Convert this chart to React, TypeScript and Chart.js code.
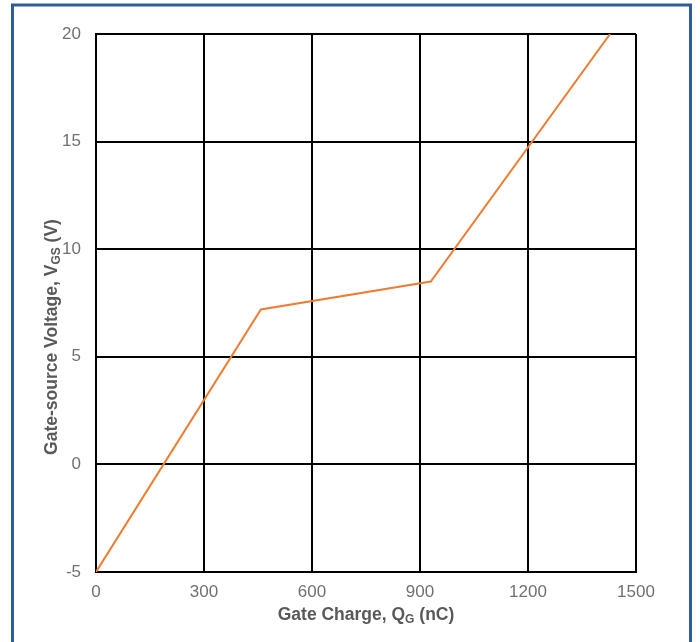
import React, { useEffect, useRef } from "react";
import { Chart, registerables } from "chart.js";
Chart.register(...registerables);

const charge = [0, 458, 930, 1428];
const voltage = [-5, 7.2, 8.5, 20];
const xTicks = [0, 300, 600, 900, 1200, 1500];
const yTicks = [-5, 0, 5, 10, 15, 20];
const xTitle: [string, boolean][] = [["Gate Charge, Q", false], ["G", true], [" (nC)", false]];
const yTitle: [string, boolean][] = [["Gate-source Voltage, V", false], ["GS", true], [" (V)", false]];

const FONT = "'Liberation Sans', Arial, sans-serif";
const TITLE_COLOR = "#595959";
const TICK_COLOR = "#707070";

function drawParts(ctx: CanvasRenderingContext2D, parts: [string, boolean][], cx: number, baseY: number) {
  const main = `bold 17.5px ${FONT}`;
  const sub = `bold 12px ${FONT}`;
  let total = 0;
  const widths = parts.map(([t, s]) => {
    ctx.font = s ? sub : main;
    const w = ctx.measureText(t).width;
    total += w;
    return w;
  });
  let x = cx - total / 2;
  ctx.fillStyle = TITLE_COLOR;
  ctx.textBaseline = "alphabetic";
  ctx.textAlign = "left";
  parts.forEach(([t, s], i) => {
    ctx.font = s ? sub : main;
    ctx.fillText(t, x, baseY + (s ? 3 : 0));
    x += widths[i];
  });
}

const deco = {
  id: "deco",
  beforeDraw(chart: any) {
    const ctx = chart.ctx as CanvasRenderingContext2D;
    ctx.save();
    ctx.fillStyle = "#ffffff";
    ctx.fillRect(0, 0, chart.width, chart.height);
    ctx.strokeStyle = "#2F5C9A";
    ctx.lineWidth = 3;
    ctx.strokeRect(12.5, 5, 678, 700);
    ctx.restore();
  },
  afterDraw(chart: any) {
    const ctx = chart.ctx as CanvasRenderingContext2D;
    const a = chart.chartArea;
    ctx.save();
    drawParts(ctx, xTitle, (a.left + a.right) / 2, 620);
    ctx.translate(57, 337);
    ctx.rotate(-Math.PI / 2);
    drawParts(ctx, yTitle, 0, 0);
    ctx.restore();
  },
};

export default function App() {
  const ref = useRef<HTMLCanvasElement>(null);
  useEffect(() => {
    const chart = new Chart(ref.current!, {
      type: "scatter",
      data: {
        datasets: [
          {
            data: charge.map((c, i) => ({ x: c, y: voltage[i] })),
            showLine: true,
            borderColor: "#ED7D31",
            borderWidth: 2,
            pointRadius: 0,
            tension: 0,
          },
        ],
      },
      options: {
        animation: false,
        responsive: false,
        layout: { padding: { top: 34, right: 64, left: 0, bottom: 0 } },
        plugins: { legend: { display: false }, tooltip: { enabled: false } },
        scales: {
          x: {
            type: "linear",
            min: 0,
            max: 1500,
            afterBuildTicks: (s: any) => { s.ticks = xTicks.map((v) => ({ value: v })); },
            afterFit: (s: any) => { s.height = 70; },
            grid: { color: "#000", lineWidth: 2, drawTicks: false },
            border: { display: true, color: "#000", width: 2 },
            ticks: { padding: 10, color: TICK_COLOR, font: { size: 17, family: FONT }, maxRotation: 0, callback: (v: any) => String(v) },
          },
          y: {
            type: "linear",
            min: -5,
            max: 20,
            afterBuildTicks: (s: any) => { s.ticks = yTicks.map((v) => ({ value: v })); },
            afterFit: (s: any) => { s.width = 96; },
            grid: { color: "#000", lineWidth: 2, drawTicks: false },
            border: { display: true, color: "#000", width: 2 },
            ticks: { padding: 15, color: TICK_COLOR, font: { size: 17, family: FONT }, callback: (v: any) => String(v) },
          },
        },
      },
      plugins: [deco],
    } as any);
    return () => chart.destroy();
  }, []);
  return (
    <div style={{ position: "fixed", left: 0, top: 0, width: 700, height: 642 }}>
      <canvas ref={ref} width={700} height={642} style={{ display: "block" }} />
    </div>
  );
}
